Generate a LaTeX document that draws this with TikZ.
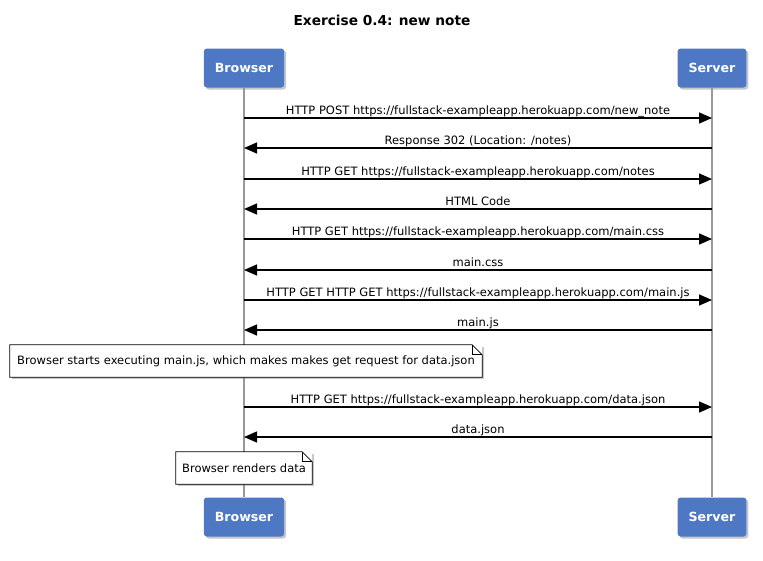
\documentclass[tikz,border=0pt]{standalone}
\usepackage{fontspec}
\setmainfont{DejaVu Sans}
\usetikzlibrary{
  arrows.meta,
  positioning,
  shadows
}
\definecolor{actorblue}{HTML}{4F78C4}
\tikzset{
  actor/.style = {rectangle, rounded corners=3pt, fill=actorblue,
      text=white, font=\bfseries\fontsize{12.6}{14}\selectfont,
      inner xsep=11pt, minimum height=39pt,
      drop shadow={opacity=.45, shadow xshift=2pt, shadow yshift=-2pt}},
  lifeline/.style = {gray!80, line width=1.4pt},
  msg/.style = {-{Triangle[length=13pt, width=11pt]}, line width=1.4pt},
  lbl/.style = {midway, anchor=base, yshift=3.5pt, inner sep=0pt,
      font=\fontsize{11.5}{13}\selectfont},
  note/.style = {rectangle, fill=white, inner xsep=5pt, minimum height=32pt,
      font=\fontsize{11.5}{13}\selectfont,
      drop shadow={opacity=.45, shadow xshift=2pt, shadow yshift=-2pt}},
  notefold/.style = {line width=.7pt},
}

\begin{document}
\begin{tikzpicture}[x=1pt, y=-1pt]
  \useasboundingbox (0,0) rectangle (763,560);
  \node[font=\bfseries\fontsize{13.7}{16}\selectfont] (title) at (382,20) {Exercise 0.4: new note};

  % participants, top and bottom
  \node[actor] (bt) at (244,68) {Browser};
  \node[actor] (st) at (712,68) {Server};
  \node[actor] (bb) at (244,517) {Browser};
  \node[actor] (sb) at (712,517) {Server};

  \draw[lifeline] (bt) -- (bb);
  \draw[lifeline] (st) -- (sb);

  % messages: y / direction / text
  \foreach \y/\dir/\txt [count=\i] in {
      118/r/{HTTP POST https://fullstack-exampleapp.herokuapp.com/new\_note},
      148/l/{Response 302 (Location: /notes)},
      179/r/{HTTP GET https://fullstack-exampleapp.herokuapp.com/notes},
      209/l/{HTML Code},
      239/r/{HTTP GET https://fullstack-exampleapp.herokuapp.com/main.css},
      270/l/{main.css},
      300/r/{HTTP GET HTTP GET https://fullstack-exampleapp.herokuapp.com/main.js},
      330/l/{main.js},
      407/r/{HTTP GET https://fullstack-exampleapp.herokuapp.com/data.json},
      437/l/{data.json}}{
    \coordinate (b\i) at (bt.south |- 0,\y);
    \coordinate (s\i) at (st.south |- 0,\y);
    \if r\dir
      \draw[msg] (b\i) -- node[lbl] {\txt} (s\i);
    \else
      \draw[msg] (s\i) -- node[lbl] {\txt} (b\i);
    \fi
  }

  % notes
  \node[note, minimum width=472pt] (note1) at (246,361)
    {Browser starts executing main.js, which makes makes get request for data.json};
  \node[note, minimum width=136pt] (note2) at (244,468) {Browser renders data};
  \foreach \n in {note1, note2}{
    \fill[white] ([xshift=-10pt]\n.north east) -- (\n.north east)
      -- ([yshift=-10pt]\n.north east) -- cycle;
    \draw[notefold] (\n.north west) -- ([xshift=-10pt]\n.north east)
      -- ([yshift=-10pt]\n.north east) -- (\n.south east)
      -- (\n.south west) -- cycle;
    \draw[notefold] ([xshift=-10pt]\n.north east) |- ([yshift=-10pt]\n.north east);
  }
\end{tikzpicture}
\end{document}
